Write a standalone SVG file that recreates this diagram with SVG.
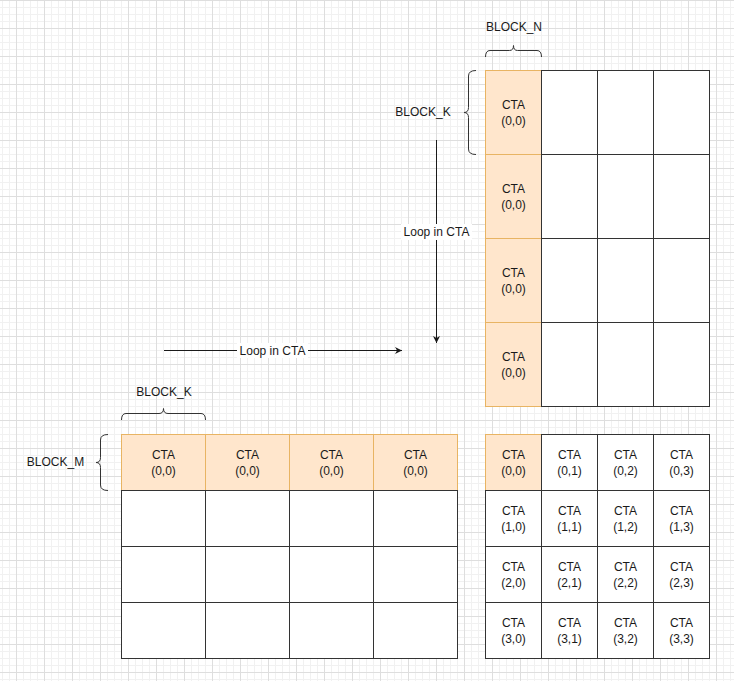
<svg xmlns="http://www.w3.org/2000/svg" width="734" height="681" viewBox="0 0 734 681">
<defs>
<pattern id="minor" width="7" height="7" patternUnits="userSpaceOnUse" x="16" y="0"><rect width="1" height="7" fill="#f1f1f1"/><rect width="7" height="1" fill="#f1f1f1"/></pattern>
<pattern id="major" width="28" height="28" patternUnits="userSpaceOnUse" x="16" y="0"><rect width="1" height="28" fill="#dedede"/><rect width="28" height="1" fill="#dedede"/></pattern>
<marker id="arr" viewBox="0 0 10 10" refX="10" refY="5" markerWidth="7" markerHeight="7" markerUnits="userSpaceOnUse" orient="auto"><path d="M0,0 L10,5 L0,10 L3,5 Z" fill="#1a1a1a"/></marker>
</defs>
<style>
.o{fill:#ffe6cc;stroke:#e8b463;stroke-width:1}
.w{fill:#ffffff;stroke:#333333;stroke-width:1}
.t{font-family:"Liberation Sans",Arial,sans-serif;font-size:12px;fill:#1a1a1a;text-anchor:middle;dominant-baseline:central}
.br{fill:none;stroke:#333333;stroke-width:1}
.ln{fill:none;stroke:#1a1a1a;stroke-width:1}
</style>
<rect width="734" height="681" fill="#ffffff"/>
<rect width="734" height="681" fill="url(#minor)"/>
<rect width="734" height="681" fill="url(#major)"/>

<!-- Matrix B (top right) -->
<g id="matB">
<g id="B00"><rect class="o" x="485.5" y="70.5" width="56" height="84"/><text class="t" x="513.5" y="104.5">CTA</text><text class="t" x="513.5" y="120.5">(0,0)</text></g>
<g id="B10"><rect class="o" x="485.5" y="154.5" width="56" height="84"/><text class="t" x="513.5" y="188.5">CTA</text><text class="t" x="513.5" y="204.5">(0,0)</text></g>
<g id="B20"><rect class="o" x="485.5" y="238.5" width="56" height="84"/><text class="t" x="513.5" y="272.5">CTA</text><text class="t" x="513.5" y="288.5">(0,0)</text></g>
<g id="B30"><rect class="o" x="485.5" y="322.5" width="56" height="84"/><text class="t" x="513.5" y="356.5">CTA</text><text class="t" x="513.5" y="372.5">(0,0)</text></g>
<g id="B01"><rect class="w" x="541.5" y="70.5" width="56" height="84"/></g>
<g id="B02"><rect class="w" x="597.5" y="70.5" width="56" height="84"/></g>
<g id="B03"><rect class="w" x="653.5" y="70.5" width="56" height="84"/></g>
<g id="B11"><rect class="w" x="541.5" y="154.5" width="56" height="84"/></g>
<g id="B12"><rect class="w" x="597.5" y="154.5" width="56" height="84"/></g>
<g id="B13"><rect class="w" x="653.5" y="154.5" width="56" height="84"/></g>
<g id="B21"><rect class="w" x="541.5" y="238.5" width="56" height="84"/></g>
<g id="B22"><rect class="w" x="597.5" y="238.5" width="56" height="84"/></g>
<g id="B23"><rect class="w" x="653.5" y="238.5" width="56" height="84"/></g>
<g id="B31"><rect class="w" x="541.5" y="322.5" width="56" height="84"/></g>
<g id="B32"><rect class="w" x="597.5" y="322.5" width="56" height="84"/></g>
<g id="B33"><rect class="w" x="653.5" y="322.5" width="56" height="84"/></g>
</g>

<!-- Matrix A (bottom left) -->
<g id="matA">
<g id="A00"><rect class="o" x="121.5" y="434.5" width="84" height="56"/><text class="t" x="163.5" y="454.5">CTA</text><text class="t" x="163.5" y="470.5">(0,0)</text></g>
<g id="A01"><rect class="o" x="205.5" y="434.5" width="84" height="56"/><text class="t" x="247.5" y="454.5">CTA</text><text class="t" x="247.5" y="470.5">(0,0)</text></g>
<g id="A02"><rect class="o" x="289.5" y="434.5" width="84" height="56"/><text class="t" x="331.5" y="454.5">CTA</text><text class="t" x="331.5" y="470.5">(0,0)</text></g>
<g id="A03"><rect class="o" x="373.5" y="434.5" width="84" height="56"/><text class="t" x="415.5" y="454.5">CTA</text><text class="t" x="415.5" y="470.5">(0,0)</text></g>
<g id="A10"><rect class="w" x="121.5" y="490.5" width="84" height="56"/></g>
<g id="A11"><rect class="w" x="205.5" y="490.5" width="84" height="56"/></g>
<g id="A12"><rect class="w" x="289.5" y="490.5" width="84" height="56"/></g>
<g id="A13"><rect class="w" x="373.5" y="490.5" width="84" height="56"/></g>
<g id="A20"><rect class="w" x="121.5" y="546.5" width="84" height="56"/></g>
<g id="A21"><rect class="w" x="205.5" y="546.5" width="84" height="56"/></g>
<g id="A22"><rect class="w" x="289.5" y="546.5" width="84" height="56"/></g>
<g id="A23"><rect class="w" x="373.5" y="546.5" width="84" height="56"/></g>
<g id="A30"><rect class="w" x="121.5" y="602.5" width="84" height="56"/></g>
<g id="A31"><rect class="w" x="205.5" y="602.5" width="84" height="56"/></g>
<g id="A32"><rect class="w" x="289.5" y="602.5" width="84" height="56"/></g>
<g id="A33"><rect class="w" x="373.5" y="602.5" width="84" height="56"/></g>
</g>

<!-- Matrix C (bottom right) -->
<g id="matC">
<g id="C00"><rect class="o" x="485.5" y="434.5" width="56" height="56"/><text class="t" x="513.5" y="454.5">CTA</text><text class="t" x="513.5" y="470.5">(0,0)</text></g>
<g id="C01"><rect class="w" x="541.5" y="434.5" width="56" height="56"/><text class="t" x="569.5" y="454.5">CTA</text><text class="t" x="569.5" y="470.5">(0,1)</text></g>
<g id="C02"><rect class="w" x="597.5" y="434.5" width="56" height="56"/><text class="t" x="625.5" y="454.5">CTA</text><text class="t" x="625.5" y="470.5">(0,2)</text></g>
<g id="C03"><rect class="w" x="653.5" y="434.5" width="56" height="56"/><text class="t" x="681.5" y="454.5">CTA</text><text class="t" x="681.5" y="470.5">(0,3)</text></g>
<g id="C10"><rect class="w" x="485.5" y="490.5" width="56" height="56"/><text class="t" x="513.5" y="510.5">CTA</text><text class="t" x="513.5" y="526.5">(1,0)</text></g>
<g id="C11"><rect class="w" x="541.5" y="490.5" width="56" height="56"/><text class="t" x="569.5" y="510.5">CTA</text><text class="t" x="569.5" y="526.5">(1,1)</text></g>
<g id="C12"><rect class="w" x="597.5" y="490.5" width="56" height="56"/><text class="t" x="625.5" y="510.5">CTA</text><text class="t" x="625.5" y="526.5">(1,2)</text></g>
<g id="C13"><rect class="w" x="653.5" y="490.5" width="56" height="56"/><text class="t" x="681.5" y="510.5">CTA</text><text class="t" x="681.5" y="526.5">(1,3)</text></g>
<g id="C20"><rect class="w" x="485.5" y="546.5" width="56" height="56"/><text class="t" x="513.5" y="566.5">CTA</text><text class="t" x="513.5" y="582.5">(2,0)</text></g>
<g id="C21"><rect class="w" x="541.5" y="546.5" width="56" height="56"/><text class="t" x="569.5" y="566.5">CTA</text><text class="t" x="569.5" y="582.5">(2,1)</text></g>
<g id="C22"><rect class="w" x="597.5" y="546.5" width="56" height="56"/><text class="t" x="625.5" y="566.5">CTA</text><text class="t" x="625.5" y="582.5">(2,2)</text></g>
<g id="C23"><rect class="w" x="653.5" y="546.5" width="56" height="56"/><text class="t" x="681.5" y="566.5">CTA</text><text class="t" x="681.5" y="582.5">(2,3)</text></g>
<g id="C30"><rect class="w" x="485.5" y="602.5" width="56" height="56"/><text class="t" x="513.5" y="622.5">CTA</text><text class="t" x="513.5" y="638.5">(3,0)</text></g>
<g id="C31"><rect class="w" x="541.5" y="602.5" width="56" height="56"/><text class="t" x="569.5" y="622.5">CTA</text><text class="t" x="569.5" y="638.5">(3,1)</text></g>
<g id="C32"><rect class="w" x="597.5" y="602.5" width="56" height="56"/><text class="t" x="625.5" y="622.5">CTA</text><text class="t" x="625.5" y="638.5">(3,2)</text></g>
<g id="C33"><rect class="w" x="653.5" y="602.5" width="56" height="56"/><text class="t" x="681.5" y="622.5">CTA</text><text class="t" x="681.5" y="638.5">(3,3)</text></g>
</g>

<!-- Braces and labels -->
<g id="braceN"><path class="br" d="M485.5,57 Q485.5,50.5 490,50.5 L509.5,50.5 Q513.5,50.5 513.5,45.5 Q513.5,50.5 517.5,50.5 L537,50.5 Q541.5,50.5 541.5,57"/><text class="t" x="514" y="27">BLOCK_N</text></g>
<g id="braceKB"><path class="br" d="M476,70.5 Q468.5,70.5 468.5,76 L468.5,107.5 Q468.5,112.5 464,112.5 Q468.5,112.5 468.5,117.5 L468.5,149 Q468.5,154.5 476,154.5"/><text class="t" x="423" y="112">BLOCK_K</text></g>
<g id="braceKA"><path class="br" d="M121.5,420 Q121.5,413.5 126,413.5 L159,413.5 Q163.5,413.5 163.5,408.5 Q163.5,413.5 168,413.5 L201,413.5 Q205.5,413.5 205.5,420"/><text class="t" x="164" y="391.5">BLOCK_K</text></g>
<g id="braceM"><path class="br" d="M108,434.5 Q100.5,434.5 100.5,440 L100.5,457.5 Q100.5,462.5 96,462.5 Q100.5,462.5 100.5,467.5 L100.5,485 Q100.5,490.5 108,490.5"/><text class="t" x="55.5" y="462">BLOCK_M</text></g>

<!-- Connectors -->
<g id="connectors">
<g id="loopV"><line class="ln" x1="436.5" y1="140" x2="436.5" y2="343" marker-end="url(#arr)"/><rect x="401" y="224" width="71" height="16" fill="#ffffff"/><text class="t" x="436.5" y="232">Loop in CTA</text></g>
<g id="loopH"><line class="ln" x1="164" y1="350.5" x2="402" y2="350.5" marker-end="url(#arr)"/><rect x="237" y="343" width="71" height="15" fill="#ffffff"/><text class="t" x="272.5" y="350.5">Loop in CTA</text></g>
</g>
</svg>
